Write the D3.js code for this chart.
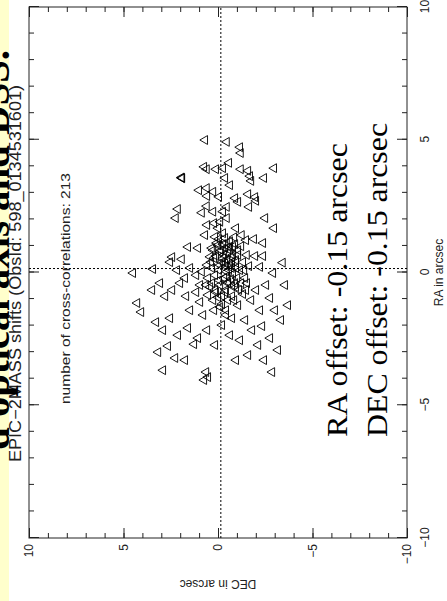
<!DOCTYPE html>
<html><head><meta charset="utf-8">
<script src="https://cdn.jsdelivr.net/npm/d3@7"></script>
<style>html,body{margin:0;padding:0;background:#fff;}svg{display:block}</style>
</head><body>
<svg id="c" width="447" height="601"></svg>
<script>
// [DEC, RA] shifts in arcsec
const shifts = [
[-0.46,4.92],[-1.16,4.72],[-1.20,4.50],[0.74,3.98],[0.60,3.89],[0.11,3.89],[-0.26,3.93],[-0.58,4.13],
[-1.20,3.89],[-1.59,3.83],[-1.69,3.63],[-1.75,3.45],[-2.43,3.56],[-2.96,3.93],[1.92,3.56],[1.90,3.55],
[1.93,3.58],[-0.37,3.56],[-0.63,3.29],[1.01,3.10],[0.60,3.18],[0.26,3.04],[0.58,2.88],[-0.05,2.85],
[-0.90,2.80],[-1.06,2.66],[-1.59,2.95],[-1.96,2.84],[-2.01,2.70],[-1.64,2.47],[2.13,2.39],[2.24,2.05],
[0.60,2.50],[0.86,2.25],[0.26,2.29],[-0.26,2.29],[-0.46,2.47],[-0.46,2.05],[-2.49,2.05],[-2.96,1.67],
[0.58,1.79],[0.21,1.86],[-0.11,1.91],[0.00,1.67],[0.69,1.41],[0.16,1.34],[-0.26,1.48],[-0.95,1.67],
[-0.85,1.33],[-1.25,1.41],[-1.48,1.22],[-1.90,1.26],[-2.38,1.11],[1.59,0.96],[1.06,0.92],[0.33,0.92],
[0.07,1.11],[-0.37,0.92],[-0.53,0.73],[-0.26,0.54],[-0.72,0.59],[-1.06,0.66],[-1.52,0.66],[-1.96,0.62],
[-2.38,0.62],[2.43,0.58],[1.92,0.50],[0.42,0.59],[0.58,0.28],[-0.11,0.28],[-0.63,0.28],[-0.95,0.37],
[-2.22,0.21],[-3.42,0.37],[3.44,0.13],[4.50,-0.02],[0.86,0.03],[-0.46,0.03],[-2.91,-0.02],[-0.11,0.78],
[-0.46,1.11],[-0.79,0.97],[-0.37,0.35],[-0.72,0.17],[0.69,4.99],
[4.28,-1.15],[4.07,-1.49],[3.49,-0.66],[3.07,-0.40],[2.80,-0.89],[2.43,-0.66],[2.01,-0.40],[3.28,-1.87],
[2.91,-2.17],[2.54,-1.72],[2.12,-2.36],[3.17,-3.00],[2.65,-2.77],[2.27,-3.22],[2.91,-3.68],[1.69,-0.89],
[1.48,-1.42],[1.59,-2.09],[1.27,-2.70],[1.75,-3.30],[1.16,-0.74],[0.95,-1.11],[0.79,-1.60],[0.58,-2.17],
[1.06,-2.47],[0.63,-3.75],[0.53,-3.94],[0.74,-4.05],[0.32,-0.40],[0.16,-0.66],[0.00,-0.93],[-0.21,-1.19],
[-0.37,-0.74],[-0.53,-0.40],[-0.74,-0.89],[-0.95,-0.55],[-0.05,-0.29],[0.26,-1.04],[-0.42,-1.42],[-0.74,-1.72],
[-1.06,-1.23],[-1.32,-0.81],[-1.53,-0.40],[-1.75,-1.04],[-2.01,-0.66],[-2.22,-1.42],[-2.54,-0.47],[-2.75,-0.96],
[-3.01,-1.42],[-3.33,-1.79],[-3.70,-1.23],[-3.54,-0.47],[-1.43,-1.79],[-1.80,-2.17],[-2.33,-2.02],[-2.75,-2.47],
[-3.17,-2.92],[-2.12,-2.73],[-1.59,-3.11],[-2.43,-3.30],[-1.16,-2.55],[-0.63,-2.36],[-0.21,-1.98],[0.16,-2.73],
[-0.95,-3.30],[-2.86,-3.75],
[0.00,1.03],[-0.16,0.84],[-0.32,0.66],[-0.48,0.47],[-0.63,0.84],[-0.79,0.66],[-0.95,0.47],[-0.21,0.39],
[-0.42,0.24],[-0.58,0.09],[-0.79,-0.06],[-1.01,-0.21],[-0.05,0.09],[0.16,-0.10],[0.32,0.17],[-0.32,-0.21],
[-0.53,-0.36],[-0.74,-0.51],[-0.42,-0.66],[-0.11,-0.47],[0.11,-0.74],[0.42,-0.55],[-0.85,-1.04],[-0.53,-1.04],
[-0.21,-0.89],[-1.16,0.09],[-1.32,0.39],[-1.06,0.84],[0.11,0.62],[0.26,0.84],[-0.05,1.26],[-0.37,1.30],
[-0.63,1.18],[-0.90,1.07],[-1.22,0.99],[-0.48,-0.14],[-0.69,-0.25],[-0.90,-0.40],[-1.11,-0.66],[-1.43,-0.21],
[-1.38,0.09],[-1.64,0.24],[0.53,-0.21],[0.63,-0.47],[0.37,0.39],[0.21,0.54],[-0.26,1.07],[-0.58,0.96],
[-0.74,0.39],[-0.95,0.17],[-1.22,-0.40],[-1.48,-0.66],[-0.11,-1.30],[-0.42,-1.60],[0.21,-1.42],[0.53,-0.85],
[0.95,-0.47],[1.16,-0.10],[1.48,0.17],[1.75,-0.21],[2.17,0.09],[2.54,0.39]
];
const majorTicks = [-10,-5,0,5,10];
const minorTicks = d3.range(-10,11);
const raLine = 0.15, decLine = -0.15;
const nCross = 213;
const title = "d optical axis and DSS.";
const subtitle = "EPIC\u22122MASS shifts (ObsId: 598_0134531601)";
const raText = "RA offset: -0.15 arcsec";
const decText = "DEC offset: -0.15 arcsec";

const W = 447, H = 601;
const svg = d3.select("#c");
svg.append("rect").attr("width", W).attr("height", H).attr("fill", "#fff");
svg.append("rect").attr("x", 0).attr("y", 0).attr("width", 9).attr("height", H).attr("fill", "#ffffcc");

const pw = 531, ph = 378;
const g = svg.append("g").attr("transform", "translate(29,538) rotate(-90)");
const x = d3.scaleLinear().domain([-10, 10]).range([0, pw]);
const y = d3.scaleLinear().domain([-10, 10]).range([ph, 0]);

const sans = "Liberation Sans, Arial, sans-serif";
const serif = "Liberation Serif, Times New Roman, serif";
const ink = "#222";

function styleAxis(sel) {
  sel.select(".domain").remove();
  sel.selectAll("line").attr("stroke", ink).attr("stroke-width", 1);
  sel.selectAll("text").attr("fill", ink).style("font-family", sans).style("font-size", "12px");
}
// minor ticks on all four sides
g.append("g").attr("transform", `translate(0,${ph})`).call(d3.axisBottom(x).tickValues(minorTicks).tickSize(-5).tickFormat("")).call(styleAxis);
g.append("g").call(d3.axisTop(x).tickValues(minorTicks).tickSize(-5).tickFormat("")).call(styleAxis);
g.append("g").call(d3.axisLeft(y).tickValues(minorTicks).tickSize(-5).tickFormat("")).call(styleAxis);
g.append("g").attr("transform", `translate(${pw},0)`).call(d3.axisRight(y).tickValues(minorTicks).tickSize(-5).tickFormat("")).call(styleAxis);
// major ticks
g.append("g").attr("transform", `translate(0,${ph})`).call(d3.axisBottom(x).tickValues(majorTicks).tickSizeInner(-10).tickSizeOuter(0).tickPadding(13)).call(styleAxis);
g.append("g").call(d3.axisTop(x).tickValues(majorTicks).tickSize(-10).tickFormat("")).call(styleAxis);
g.append("g").call(d3.axisLeft(y).tickValues(majorTicks).tickSizeInner(-10).tickSizeOuter(0).tickPadding(6)).call(styleAxis);
g.append("g").attr("transform", `translate(${pw},0)`).call(d3.axisRight(y).tickValues(majorTicks).tickSize(-10).tickFormat("")).call(styleAxis);

// frame
g.append("rect").attr("width", pw).attr("height", ph).attr("fill", "none").attr("stroke", ink).attr("stroke-width", 1);

// dotted reference lines
g.append("line").attr("x1", x(raLine)).attr("x2", x(raLine)).attr("y1", 0).attr("y2", ph)
  .attr("stroke", "#000").attr("stroke-width", 1).attr("stroke-dasharray", "2,2");
g.append("line").attr("x1", 0).attr("x2", pw).attr("y1", y(decLine)).attr("y2", y(decLine))
  .attr("stroke", "#000").attr("stroke-width", 1).attr("stroke-dasharray", "2,2");

// points
g.selectAll("path.pt").data(shifts).join("path").attr("class", "pt")
  .attr("transform", d => `translate(${x(d[1])},${y(d[0])})`)
  .attr("d", d3.symbol(d3.symbolTriangle, 34))
  .attr("fill", "none").attr("stroke", "#000").attr("stroke-width", 0.9);

// axis titles
g.append("text").attr("x", pw / 2).attr("y", ph + 36).attr("text-anchor", "middle")
  .style("font-family", sans).style("font-size", "12px").attr("fill", ink).text("RA in arcsec");
g.append("text").attr("transform", `translate(-42,${ph / 2}) rotate(-90)`).attr("text-anchor", "middle")
  .style("font-family", sans).style("font-size", "12px").attr("fill", ink).text("DEC in arcsec");

// annotations
g.append("text").attr("x", 76).attr("y", -8).attr("textLength", 377).attr("lengthAdjust", "spacingAndGlyphs")
  .style("font-family", sans).style("font-size", "16px").attr("fill", ink).text(subtitle);
g.append("text").attr("x", 134).attr("y", 41).attr("textLength", 231).attr("lengthAdjust", "spacingAndGlyphs")
  .style("font-family", sans).style("font-size", "12.5px").attr("fill", ink).text(`number of cross-correlations: ${nCross}`);
g.append("text").attr("x", 101).attr("y", 318).attr("textLength", 294).attr("lengthAdjust", "spacingAndGlyphs")
  .style("font-family", serif).style("font-size", "30px").attr("fill", "#000").text(raText);
g.append("text").attr("x", 101).attr("y", 358).attr("textLength", 314).attr("lengthAdjust", "spacingAndGlyphs")
  .style("font-family", serif).style("font-size", "30px").attr("fill", "#000").text(decText);

// clipped page title
g.append("text").attr("x", 88).attr("y", -20).attr("textLength", 400).attr("lengthAdjust", "spacingAndGlyphs")
  .style("font-family", serif).style("font-size", "40px").style("font-weight", "bold").attr("fill", "#000").text(title);
</script>
</body></html>
